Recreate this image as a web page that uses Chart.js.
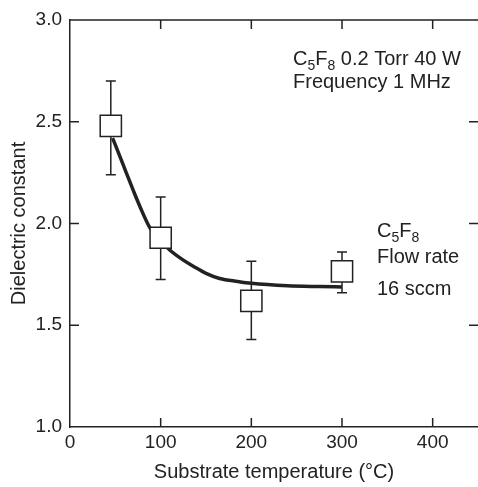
<!DOCTYPE html>
<html>
<head>
<meta charset="utf-8">
<script src="https://cdn.jsdelivr.net/npm/chart.js@4.4.1/dist/chart.umd.min.js"></script>
<style>
  html, body { margin: 0; padding: 0; background: #fff; overflow: hidden; }
  canvas { display: block; }
</style>
</head>
<body>
<canvas id="chart_dielectric" width="478" height="487"></canvas>
<script>
// measured points (substrate temperature, dielectric constant)
const temps = [45, 100, 200, 300];
const kValues = [2.48, 1.93, 1.62, 1.765];
const errHigh = [2.70, 2.13, 1.815, 1.86];
const errLow = [2.24, 1.725, 1.43, 1.66];

// hand drawn guide curve
const fitTemps = [47, 55, 62, 70, 77, 88, 100, 110, 125, 136, 150, 165, 185, 200, 240, 275, 300];
const fitValues = [2.42, 2.33, 2.25, 2.16, 2.085, 1.98, 1.915, 1.87, 1.82, 1.79, 1.755, 1.73, 1.715, 1.706, 1.694, 1.69, 1.688];

const xTickValues = [0, 100, 200, 300, 400];
const yTickValues = [1.0, 1.5, 2.0, 2.5, 3.0];

const ink = '#222';
const fontFamily = '"Liberation Sans", Arial, Helvetica, sans-serif';

const pointData = temps.map((t, i) => ({ x: t, y: kValues[i] }));
const fitData = fitTemps.map((t, i) => ({ x: t, y: fitValues[i] }));

// frame, inward ticks and error bars
const framePlugin = {
    id: 'framePlugin',
    beforeDatasetsDraw: (chart) => {
        const ctx = chart.ctx;
        const xs = chart.scales.x, ys = chart.scales.y;
        ctx.save();
        ctx.strokeStyle = ink;
        ctx.lineWidth = 1.5;
        for (let i = 0; i < temps.length; i++) {
            const px = xs.getPixelForValue(temps[i]);
            const top = ys.getPixelForValue(errHigh[i]);
            const bot = ys.getPixelForValue(errLow[i]);
            ctx.beginPath();
            ctx.moveTo(px, top); ctx.lineTo(px, bot);
            ctx.moveTo(px - 5, top); ctx.lineTo(px + 5, top);
            ctx.moveTo(px - 5, bot); ctx.lineTo(px + 5, bot);
            ctx.stroke();
        }
        ctx.restore();
    },
    afterDraw: (chart) => {
        const ctx = chart.ctx;
        const a = chart.chartArea;
        const xs = chart.scales.x, ys = chart.scales.y;
        ctx.save();
        ctx.strokeStyle = ink;
        ctx.lineWidth = 1.5;
        ctx.beginPath();
        ctx.moveTo(a.left, a.top); ctx.lineTo(a.right, a.top);
        xTickValues.forEach(v => {
            if (v === 0) return;
            const px = xs.getPixelForValue(v);
            ctx.moveTo(px, a.bottom); ctx.lineTo(px, a.bottom - 9);
            ctx.moveTo(px, a.top); ctx.lineTo(px, a.top + 9);
        });
        yTickValues.forEach(v => {
            if (v === 1.0 || v === 3.0) return;
            const py = ys.getPixelForValue(v);
            ctx.moveTo(a.left, py); ctx.lineTo(a.left + 9, py);
            ctx.moveTo(a.right, py); ctx.lineTo(a.right - 9, py);
        });
        ctx.stroke();

        // annotations with subscripts
        ctx.fillStyle = ink;
        ctx.textBaseline = 'alphabetic';
        const drawRuns = (runs, x, y) => {
            runs.forEach(r => {
                ctx.font = (r.sub ? '14px ' : '20px ') + fontFamily;
                ctx.fillText(r.t, x, r.sub ? y + 5 : y);
                x += ctx.measureText(r.t).width;
            });
        };
        drawRuns([{ t: 'C' }, { t: '5', sub: true }, { t: 'F' }, { t: '8', sub: true }, { t: ' 0.2 Torr 40 W' }], 293, 65);
        drawRuns([{ t: 'Frequency 1 MHz' }], 293, 88);
        drawRuns([{ t: 'C' }, { t: '5', sub: true }, { t: 'F' }, { t: '8', sub: true }], 377, 237);
        drawRuns([{ t: 'Flow rate' }], 377, 263);
        drawRuns([{ t: '16 sccm' }], 377, 295);
        ctx.restore();
    }
};

const chart_dielectric = new Chart(document.getElementById('chart_dielectric'), {
    type: 'scatter',
    data: {
        datasets: [
            {
                label: 'measured',
                data: pointData,
                order: 0,
                pointStyle: 'rect',
                pointRadius: 15,
                pointBackgroundColor: '#fff',
                pointBorderColor: ink,
                pointBorderWidth: 1.5,
                showLine: false
            },
            {
                label: 'fit',
                data: fitData,
                order: 1,
                showLine: true,
                borderColor: ink,
                borderWidth: 3.5,
                pointRadius: 0,
                cubicInterpolationMode: 'monotone',
                fill: false
            }
        ]
    },
    options: {
        animation: false,
        responsive: false,
        devicePixelRatio: 1,
        layout: { autoPadding: false, padding: { top: 20, right: 0, left: 0, bottom: 0 } },
        plugins: {
            legend: { display: false },
            tooltip: { enabled: false }
        },
        scales: {
            x: {
                type: 'linear',
                min: 0,
                max: 450,
                afterBuildTicks: (s) => { s.ticks = xTickValues.map(v => ({ value: v })); },
                afterFit: (s) => { s.height = 60; s.paddingLeft = 0; s.paddingRight = 0; },
                grid: { display: false, drawTicks: false },
                border: { display: true, color: ink, width: 1.5 },
                ticks: {
                    color: ink,
                    padding: 4,
                    maxRotation: 0,
                    font: { family: fontFamily, size: 19 }
                },
                title: {
                    display: true,
                    text: 'Substrate temperature (\u00B0C)',
                    color: ink,
                    padding: { top: 0, bottom: 3 },
                    font: { family: fontFamily, size: 20 }
                }
            },
            y: {
                type: 'linear',
                min: 1.0,
                max: 3.0,
                afterBuildTicks: (s) => { s.ticks = yTickValues.map(v => ({ value: v })); },
                afterFit: (s) => { s.width = 70; },
                grid: { display: false, drawTicks: false },
                border: { display: true, color: ink, width: 1.5 },
                ticks: {
                    color: ink,
                    padding: 8,
                    callback: (v) => v.toFixed(1),
                    font: { family: fontFamily, size: 19 }
                },
                title: {
                    display: true,
                    text: 'Dielectric constant',
                    color: ink,
                    padding: { top: 7, bottom: 0 },
                    font: { family: fontFamily, size: 20 }
                }
            }
        }
    },
    plugins: [framePlugin, {
        id: 'whiteBg',
        beforeDraw: (chart) => {
            const ctx = chart.canvas.getContext('2d');
            ctx.save();
            ctx.globalCompositeOperation = 'destination-over';
            ctx.fillStyle = 'white';
            ctx.fillRect(0, 0, chart.canvas.width, chart.canvas.height);
            ctx.restore();
        }
    }]
});
</script>
</body>
</html>
